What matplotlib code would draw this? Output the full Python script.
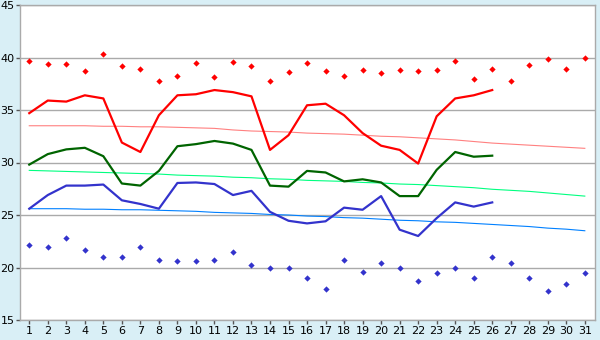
import matplotlib
matplotlib.use('Agg')
import matplotlib.pyplot as plt
import numpy as np

# Daily values for the month
days = list(range(1, 32))

max_points = [39.7, 39.4, 39.4, 38.7, 40.3, 39.2, 38.9, 37.8, 38.2, 39.5,
              38.1, 39.6, 39.2, 37.8, 38.6, 39.5, 38.7, 38.2, 38.8, 38.5,
              38.8, 38.7, 38.8, 39.7, 38.0, 38.9, 37.8, 39.3, 39.9, 38.9, 40.0]
min_points = [22.1, 22.0, 22.8, 21.7, 21.0, 21.0, 22.0, 20.7, 20.6, 20.6,
              20.7, 21.5, 20.2, 20.0, 20.0, 19.0, 18.0, 20.7, 19.6, 20.4,
              20.0, 18.7, 19.45, 20.0, 19.0, 21.0, 20.4, 19.0, 17.8, 18.4, 19.45]

max_line = [34.7, 35.9, 35.8, 36.4, 36.1, 31.9, 31.0, 34.5, 36.4, 36.5,
            36.9, 36.7, 36.3, 31.2, 32.6, 35.45, 35.6, 34.5, 32.8, 31.6,
            31.2, 29.9, 34.4, 36.1, 36.4, 36.9]
mean_line = [29.8, 30.8, 31.25, 31.4, 30.6, 28.0, 27.8, 29.2, 31.55, 31.75,
             32.05, 31.8, 31.2, 27.8, 27.7, 29.2, 29.05, 28.2, 28.4, 28.1,
             26.8, 26.8, 29.3, 31.0, 30.55, 30.65]
min_line = [25.6, 26.9, 27.8, 27.8, 27.9, 26.4, 26.05, 25.6, 28.05, 28.1,
            27.95, 26.9, 27.3, 25.3, 24.45, 24.2, 24.4, 25.7, 25.5, 26.8,
            23.6, 23.0, 24.7, 26.2, 25.8, 26.2]

max_normal = [33.5, 33.5, 33.5, 33.5, 33.45, 33.45, 33.4, 33.4, 33.35, 33.3,
              33.25, 33.1, 33.0, 32.95, 32.9, 32.8, 32.75, 32.7, 32.6, 32.5,
              32.45, 32.35, 32.25, 32.15, 32.0, 31.85, 31.75, 31.65, 31.55, 31.45, 31.35]
mean_normal = [29.25, 29.2, 29.15, 29.1, 29.05, 29.0, 28.95, 28.9, 28.8, 28.75,
               28.7, 28.6, 28.55, 28.45, 28.4, 28.3, 28.25, 28.2, 28.1, 28.05,
               27.95, 27.9, 27.8, 27.7, 27.6, 27.45, 27.35, 27.25, 27.1, 26.95, 26.8]
min_normal = [25.6, 25.6, 25.6, 25.55, 25.55, 25.5, 25.5, 25.45, 25.4, 25.35,
              25.25, 25.2, 25.15, 25.05, 25.0, 24.9, 24.85, 24.75, 24.7, 24.6,
              24.5, 24.45, 24.35, 24.3, 24.2, 24.1, 24.0, 23.9, 23.75, 23.65, 23.5]

bg = '#D9EFF6'
fig = plt.figure(figsize=(6, 3.4), dpi=100, facecolor=bg)
ax = fig.add_axes([20/600, 1 - 320/340, 575/600, 315/340])
ax.set_facecolor('white')

# normals
ax.plot(days, max_normal, color='#FF8080', lw=0.8)
ax.plot(days, mean_normal, color='#00FF80', lw=0.8)
ax.plot(days, min_normal, color='#0080FF', lw=0.8)

# observed averages
n = len(max_line)
ax.plot(days[:n], max_line, color='#FF0000', lw=1.6)
ax.plot(days[:n], mean_line, color='#006400', lw=1.6)
ax.plot(days[:n], min_line, color='#3333CC', lw=1.6)

# daily extremes
ax.plot(days, max_points, 'D', color='#FF0000', ms=3.2, mew=0)
ax.plot(days, min_points, 'D', color='#3333CC', ms=3.2, mew=0)

ax.set_xlim(0.5, 31.55)
ax.set_ylim(15, 45)
ax.set_xticks(days)
ax.set_yticks(range(15, 46, 5))
ax.yaxis.grid(True, color='#AAAAAA', lw=1)
ax.set_axisbelow(True)
for s in ax.spines.values():
    s.set_color('#AAAAAA')
    s.set_linewidth(1)
ax.tick_params(axis='both', colors='#555555', labelcolor='black', length=3, width=1,
               labelsize=8, pad=1)

fig.savefig('out.png', dpi=100, facecolor=bg)
